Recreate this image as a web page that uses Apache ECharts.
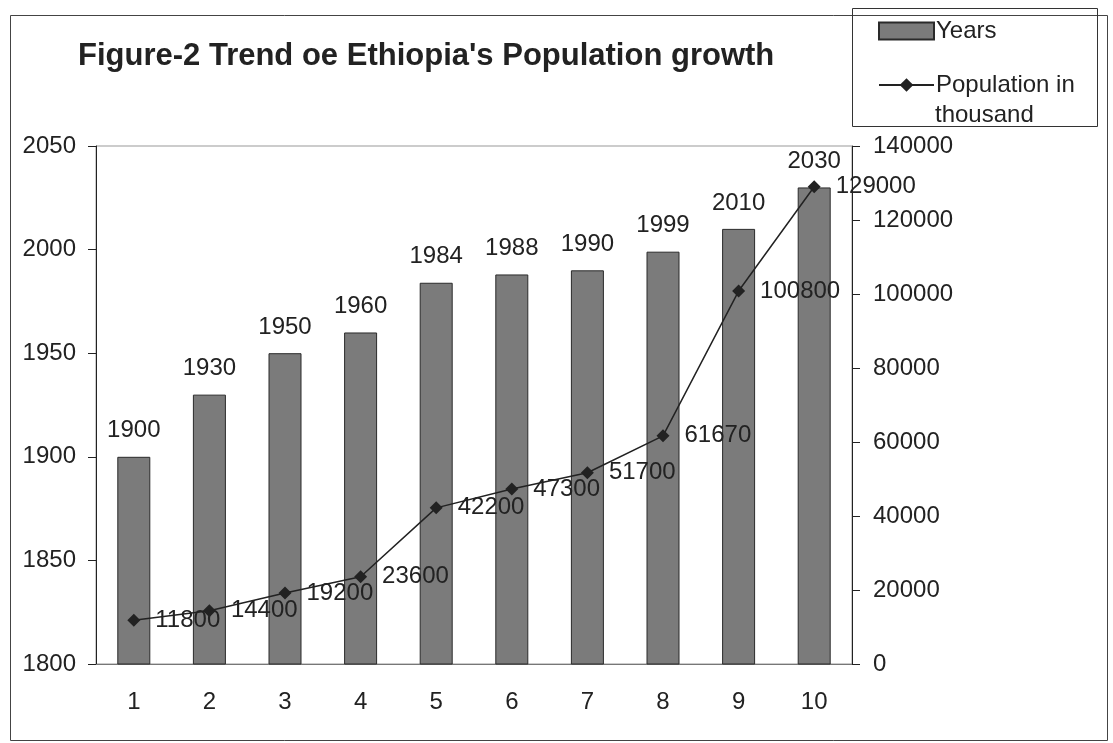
<!doctype html>
<html>
    <head>
        <meta charset="utf-8">
        <title>Ethiopia population trend</title>
        <style>
            html, body { margin: 0; padding: 0; background: #fff; }
            #main { width: 1113px; height: 743px; }
        </style>
    </head>
    <body>
        <div id="main"></div>
        <script src="https://cdn.jsdelivr.net/npm/echarts@6/dist/echarts.min.js"></script>
        <script>
            var categories = ['1', '2', '3', '4', '5', '6', '7', '8', '9', '10'];
            var years = [1900, 1930, 1950, 1960, 1984, 1988, 1990, 1999, 2010, 2030];
            var population = [11800, 14400, 19200, 23600, 42200, 47300, 51700, 61670, 100800, 129000];

            var font = 'Liberation Sans, Arial, sans-serif';
            var chart = echarts.init(document.getElementById('main'));

            function plain(v) {
                return String(v);
            }

            chart.setOption({
                backgroundColor: '#fff',
                animation: false,
                textStyle: { fontFamily: font },
                title: {
                    text: "Figure-2 Trend oe Ethiopia's Population growth",
                    left: 73,
                    top: 36,
                    textStyle: { fontFamily: font, fontSize: 31, fontWeight: 'bold', color: '#222' }
                },
                legend: {
                    orient: 'vertical',
                    left: 873,
                    top: 14,
                    itemWidth: 55,
                    itemHeight: 17,
                    itemGap: 30,
                    formatter: function (name) {
                        return name === 'Years' ? 'Years' : 'Population in';
                    },
                    textStyle: { fontFamily: font, fontSize: 24, color: '#222', padding: [0, 0, 0, -3] },
                    data: [{ name: 'Years', icon: 'rect' }, 'Population in thousand']
                },
                grid: {
                    left: 96,
                    right: 261,
                    top: 146,
                    bottom: 79,
                    show: true,
                    borderColor: '#999',
                    borderWidth: 1
                },
                xAxis: {
                    type: 'category',
                    data: categories,
                    axisLine: { lineStyle: { color: '#777' } },
                    axisTick: { length: 8, lineStyle: { color: '#555' } },
                    axisLabel: { fontSize: 24, color: '#222', margin: 26 }
                },
                yAxis: [{
                    type: 'value',
                    min: 1800,
                    max: 2050,
                    interval: 50,
                    splitLine: { show: false },
                    axisLine: { show: true, lineStyle: { color: '#222' } },
                    axisTick: { show: true, length: 8, lineStyle: { color: '#222' } },
                    axisLabel: { fontSize: 24, color: '#222', margin: 20, formatter: plain }
                }, {
                    type: 'value',
                    min: 0,
                    max: 140000,
                    interval: 20000,
                    splitLine: { show: false },
                    axisLine: { show: true, lineStyle: { color: '#222' } },
                    axisTick: { show: true, length: 8, lineStyle: { color: '#222' } },
                    axisLabel: { fontSize: 24, color: '#222', margin: 21, formatter: plain }
                }],
                series: [{
                    name: 'Years',
                    type: 'bar',
                    yAxisIndex: 0,
                    data: years,
                    barWidth: 33,
                    itemStyle: { color: '#7b7b7b', borderColor: '#2a2a2a', borderWidth: 1 },
                    label: { show: true, position: 'top', distance: 14, fontSize: 24, color: '#222' }
                }, {
                    name: 'Population in thousand',
                    type: 'line',
                    yAxisIndex: 1,
                    data: population,
                    symbol: 'diamond',
                    symbolSize: 13,
                    lineStyle: { color: '#222', width: 1.5 },
                    itemStyle: { color: '#222' },
                    label: { show: true, position: 'right', distance: 15, fontSize: 24, color: '#222' },
                    z: 5
                }],
                graphic: [{
                    type: 'rect',
                    shape: { x: 10.5, y: 15.5, width: 1097, height: 725 },
                    style: { fill: null, stroke: '#444', lineWidth: 1 },
                    z: -1
                }, {
                    type: 'text',
                    left: 935,
                    top: 103,
                    style: { text: 'thousand', font: '24px ' + font, fill: '#222' },
                    z: 10
                }, {
                    type: 'rect',
                    shape: { x: 900, y: 126, width: 190, height: 9 },
                    style: { fill: '#fff' },
                    z: 11
                }, {
                    type: 'rect',
                    shape: { x: 852.5, y: 8.5, width: 245, height: 118 },
                    style: { fill: null, stroke: '#333', lineWidth: 1 },
                    z: 12
                }]
            });

            window.addEventListener('resize', function () {
                chart.resize();
            });
        </script>
    </body>
</html>
